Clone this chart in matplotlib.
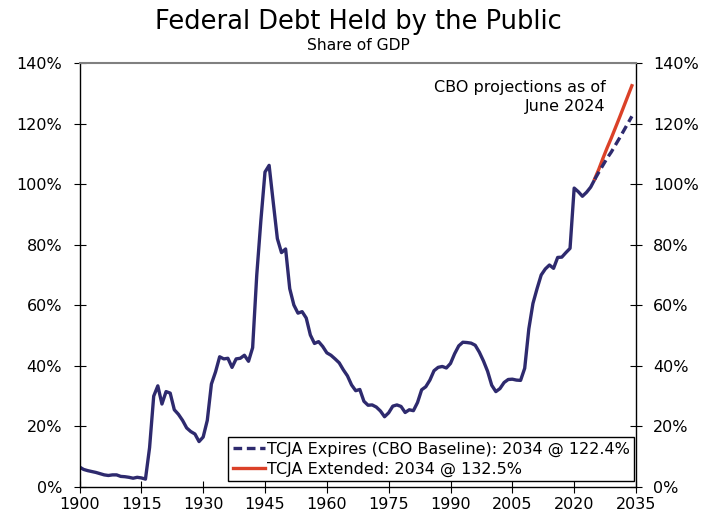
import matplotlib
matplotlib.use("Agg")
import matplotlib.pyplot as plt
from matplotlib.ticker import FuncFormatter

plt.rcParams['font.family'] = ['DejaVu Sans']

hist_years = list(range(1900, 2026))
hist_debt = [
    6.6, 5.8, 5.4, 5.1, 4.8, 4.4, 4.0, 3.8, 4.0, 4.0,   # 1900-1909
    3.5, 3.4, 3.2, 2.9, 3.2, 3.0, 2.6, 13.0, 30.0, 33.4, # 1910-1919
    27.4, 31.5, 31.0, 25.5, 24.0, 22.0, 19.5, 18.3, 17.5, 15.0, # 1920-1929
    16.5, 22.0, 34.0, 38.0, 43.0, 42.3, 42.5, 39.5, 42.3, 42.5, # 1930-1939
    43.5, 41.5, 46.0, 70.0, 88.0, 104.0, 106.2, 94.0, 82.0, 77.4, # 1940-1949
    78.6, 65.5, 60.1, 57.4, 57.9, 55.8, 50.2, 47.4, 48.0, 46.4, # 1950-1959
    44.3, 43.5, 42.3, 41.0, 38.7, 36.7, 33.7, 31.8, 32.2, 28.3, # 1960-1969
    27.0, 27.1, 26.4, 25.1, 23.2, 24.5, 26.7, 27.1, 26.6, 24.6, # 1970-1979
    25.5, 25.2, 27.9, 32.1, 33.1, 35.3, 38.4, 39.5, 39.8, 39.3, # 1980-1989
    40.8, 44.0, 46.6, 47.8, 47.7, 47.5, 46.8, 44.5, 41.6, 38.2, # 1990-1999
    33.6, 31.5, 32.5, 34.5, 35.5, 35.6, 35.3, 35.2, 39.2, 52.2, # 2000-2009
    60.6, 65.5, 70.0, 72.0, 73.3, 72.2, 75.8, 75.9, 77.4, 78.8, # 2010-2019
    98.7, 97.5, 96.0, 97.3, 99.0, 101.6,                        # 2020-2025
]

proj_years = list(range(2025, 2035))
baseline = [101.6, 104.0, 106.3, 108.6, 110.6, 112.9, 115.2, 117.6, 120.0, 122.4]
extended = [101.8, 105.0, 108.6, 112.0, 115.2, 118.6, 122.0, 125.5, 129.0, 132.5]

x_ticks = [1900, 1915, 1930, 1945, 1960, 1975, 1990, 2005, 2020, 2035]
y_ticks = [0, 20, 40, 60, 80, 100, 120, 140]

navy = '#2E2A6E'
red = '#DB4128'
fs = 11.5

fig = plt.figure(figsize=(7.16, 5.14), dpi=100)
ax = fig.add_axes([79.5 / 716, 27 / 514, (636 - 79.5) / 716, (487 - 63) / 514])

ax.plot(hist_years, hist_debt, color=navy, lw=2.4, solid_joinstyle='round',
        solid_capstyle='round')
ax.plot(proj_years, extended, color=red, lw=2.4,
        label='TCJA Extended: 2034 @ 132.5%')
ax.plot(proj_years, baseline, color=navy, lw=2.4, dashes=(2.6, 1.4),
        label='TCJA Expires (CBO Baseline): 2034 @ 122.4%')

ax.set_xlim(1900, 2035)
ax.set_ylim(0, 140)
ax.set_xticks(x_ticks)
ax.set_yticks(y_ticks)
ax.yaxis.set_major_formatter(FuncFormatter(lambda v, p: f'{v:.0f}%'))

ax.tick_params(axis='y', left=True, right=True, labelleft=True, labelright=True,
               direction='inout', length=9, width=0.8, labelsize=fs, pad=8)
ax.tick_params(axis='x', direction='inout', length=9, width=0.8, labelsize=fs, pad=2.5)

for s in ['left', 'right', 'bottom']:
    ax.spines[s].set_color('black')
    ax.spines[s].set_linewidth(1.0)
ax.spines['top'].set_color('#808080')
ax.spines['top'].set_linewidth(1.5)

handles, labels = ax.get_legend_handles_labels()
leg = ax.legend(handles[::-1], labels[::-1], loc='lower right',
                bbox_to_anchor=(0.997, 0.013), fontsize=fs, frameon=True,
                fancybox=False, edgecolor='black', framealpha=1,
                handlelength=2.0, handletextpad=0.1, borderpad=0.3,
                labelspacing=0.3, borderaxespad=0)
leg.get_frame().set_linewidth(1.0)

ax.text(0.945, 0.96, 'CBO projections as of\nJune 2024', transform=ax.transAxes,
        ha='right', va='top', fontsize=fs, linespacing=1.3)

fig.text(0.5, 1 - 29 / 514, 'Federal Debt Held by the Public', ha='center',
         va='baseline', fontsize=18.5)
fig.text(0.5, 1 - 45 / 514, 'Share of GDP', ha='center', va='center', fontsize=11.2)

fig.savefig('out.png', dpi=100)
